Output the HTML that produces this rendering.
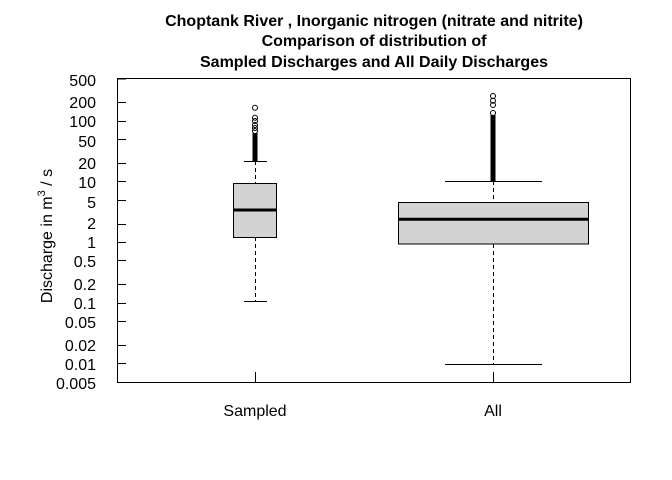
<!DOCTYPE html>
<html><head><meta charset="utf-8"><style>html,body{margin:0;padding:0;background:#fff}svg{display:block}</style></head>
<body>
<svg width="672" height="480" xmlns="http://www.w3.org/2000/svg" font-family="Liberation Sans, sans-serif">
<rect width="672" height="480" fill="#fff"/>
<g font-weight="bold" font-size="16" text-anchor="middle" fill="#000">
<text x="374" y="26">Choptank River , Inorganic nitrogen (nitrate and nitrite)</text>
<text x="374" y="46">Comparison of distribution of</text>
<text x="374" y="67">Sampled Discharges and All Daily Discharges</text>
</g>
<rect x="117.5" y="78.5" width="513" height="304" fill="none" stroke="#000" stroke-width="1"/>
<g stroke="#000" stroke-width="1">
<line x1="117" y1="79" x2="126" y2="79"/>
<line x1="117" y1="102.5" x2="126" y2="102.5"/>
<line x1="117" y1="121.5" x2="126" y2="121.5"/>
<line x1="117" y1="139.5" x2="126" y2="139.5"/>
<line x1="117" y1="163.5" x2="126" y2="163.5"/>
<line x1="117" y1="181.5" x2="126" y2="181.5"/>
<line x1="117" y1="200.5" x2="126" y2="200.5"/>
<line x1="117" y1="224.5" x2="126" y2="224.5"/>
<line x1="117" y1="242.5" x2="126" y2="242.5"/>
<line x1="117" y1="260.5" x2="126" y2="260.5"/>
<line x1="117" y1="284.5" x2="126" y2="284.5"/>
<line x1="117" y1="303.5" x2="126" y2="303.5"/>
<line x1="117" y1="321.5" x2="126" y2="321.5"/>
<line x1="117" y1="345.5" x2="126" y2="345.5"/>
<line x1="117" y1="363.5" x2="126" y2="363.5"/>
<line x1="255.5" y1="372" x2="255.5" y2="382"/>
<line x1="493.5" y1="372" x2="493.5" y2="382"/>
</g>
<g font-size="16" text-anchor="end" fill="#000">
<text x="96" y="86">500</text>
<text x="96" y="108">200</text>
<text x="96" y="127">100</text>
<text x="96" y="147">50</text>
<text x="96" y="169">20</text>
<text x="96" y="188">10</text>
<text x="96" y="208">5</text>
<text x="96" y="229">2</text>
<text x="96" y="248">1</text>
<text x="96" y="267">0.5</text>
<text x="96" y="290">0.2</text>
<text x="96" y="309">0.1</text>
<text x="96" y="328">0.05</text>
<text x="96" y="351">0.02</text>
<text x="96" y="370">0.01</text>
<text x="96" y="389">0.005</text>
</g>
<text transform="translate(52,236) rotate(-90)" font-size="16" text-anchor="middle">Discharge in m<tspan dy="-7" font-size="11">3</tspan><tspan dy="7"> / s</tspan></text>
<g font-size="16" text-anchor="middle">
<text x="255" y="416">Sampled</text>
<text x="493" y="416">All</text>
</g>
<g stroke="#000" fill="none">
<line x1="255.5" y1="161" x2="255.5" y2="183" stroke-dasharray="4,3"/>
<line x1="255.5" y1="237" x2="255.5" y2="301" stroke-dasharray="4,3"/>
<line x1="244" y1="161.5" x2="267" y2="161.5"/>
<line x1="244" y1="301.5" x2="267" y2="301.5"/>
<rect x="233.5" y="183.5" width="43" height="54" fill="#d3d3d3"/>
<line x1="233.5" y1="210" x2="276.5" y2="210" stroke-width="3"/>
<line x1="255" y1="133" x2="255" y2="161" stroke-width="5"/>
<circle cx="255" cy="107.7" r="2.5"/>
<circle cx="255" cy="117.7" r="2.5"/>
<circle cx="255" cy="121" r="2.5"/>
<circle cx="255" cy="125" r="2.5"/>
<circle cx="255" cy="128" r="2.5"/>
<circle cx="255" cy="131" r="2.5"/>
</g>
<g stroke="#000" fill="none">
<line x1="493.5" y1="181" x2="493.5" y2="202" stroke-dasharray="4,3"/>
<line x1="493.5" y1="244" x2="493.5" y2="364" stroke-dasharray="4,3"/>
<line x1="445" y1="181.5" x2="542" y2="181.5"/>
<line x1="445" y1="364.5" x2="542" y2="364.5"/>
<rect x="398.5" y="202.5" width="190" height="41.5" fill="#d3d3d3"/>
<line x1="398.5" y1="219.3" x2="588.5" y2="219.3" stroke-width="3"/>
<line x1="493" y1="115" x2="493" y2="181" stroke-width="5"/>
<circle cx="493" cy="96" r="2.5"/>
<circle cx="493" cy="100.7" r="2.5"/>
<circle cx="493" cy="105" r="2.5"/>
<circle cx="493" cy="113" r="2.5"/>
</g>
</svg>
</body></html>
